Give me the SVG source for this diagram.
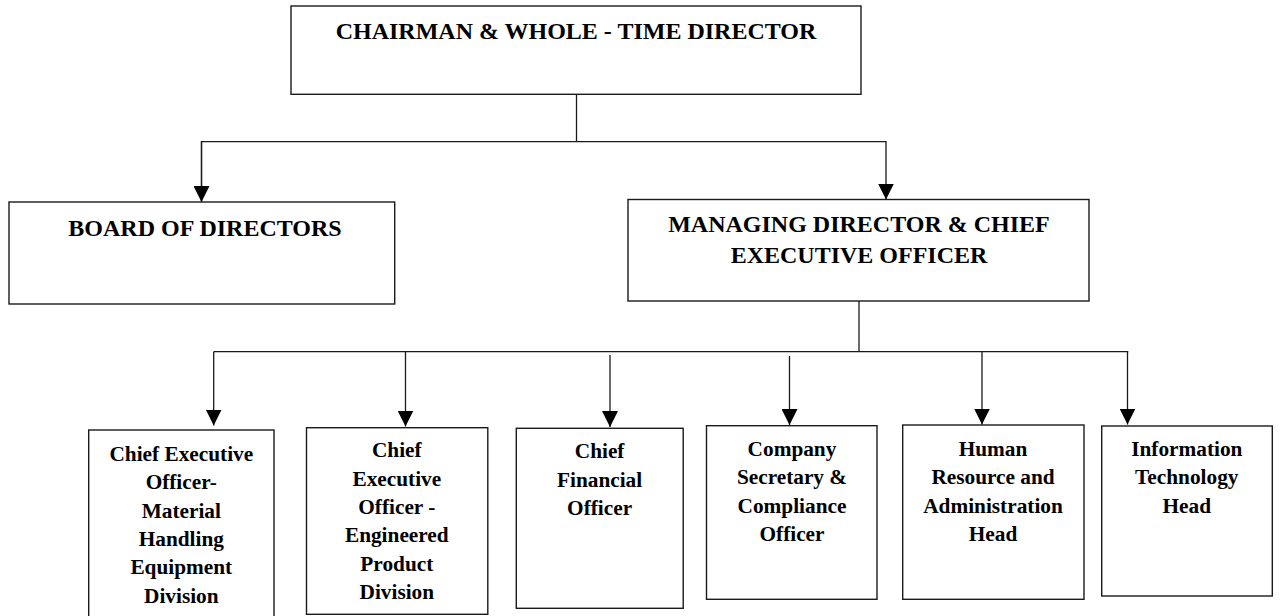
<svg xmlns="http://www.w3.org/2000/svg" width="1280" height="616" viewBox="0 0 1280 616">
<style>
.box{fill:#fff;stroke:#1a1a1a;stroke-width:1.4}
.big{font-family:"Liberation Serif","Times New Roman",serif;font-weight:bold;font-size:24px;fill:#000;text-anchor:middle}
.sm{font-family:"Liberation Serif","Times New Roman",serif;font-weight:bold;font-size:21.3px;fill:#000;text-anchor:middle}
.ln{fill:none;stroke:#1a1a1a;stroke-width:1.3}
</style>
<defs>
<marker id="ah" markerUnits="userSpaceOnUse" markerWidth="16" markerHeight="16" viewBox="0 0 15 15" refX="15" refY="7.5" orient="auto">
<path d="M0,0 L15,7.5 L0,15 z" fill="#000"/>
</marker>
</defs>
<rect width="1280" height="616" fill="#fff"/>
<g id="connectors">
<polyline class="ln" points="576.5,94 576.5,141.7"/>
<polyline class="ln" points="201.5,202 201.5,141.7 886,141.7 886,199.5" marker-end="url(#ah)"/>
<line class="ln" x1="201.5" y1="141.7" x2="201.5" y2="202" marker-end="url(#ah)"/>
<line class="ln" x1="859" y1="301" x2="859" y2="351.7"/>
<line class="ln" x1="213.7" y1="351.7" x2="1128.3" y2="351.7"/>
<line class="ln" x1="213.7" y1="351.7" x2="213.7" y2="425.5" marker-end="url(#ah)"/>
<line class="ln" x1="405.5" y1="351.7" x2="405.5" y2="426.5" marker-end="url(#ah)"/>
<line class="ln" x1="610" y1="355" x2="610" y2="427" marker-end="url(#ah)"/>
<line class="ln" x1="789.5" y1="356" x2="789.5" y2="425" marker-end="url(#ah)"/>
<line class="ln" x1="982" y1="351.7" x2="982" y2="424.5" marker-end="url(#ah)"/>
<line class="ln" x1="1127.5" y1="351.7" x2="1127.5" y2="424.5" marker-end="url(#ah)"/>
</g>
<g id="chairman">
<rect class="box" x="291" y="6" width="570" height="88.3"/>
<text class="big" x="576" y="39">CHAIRMAN &amp; WHOLE - TIME DIRECTOR</text>
</g>
<g id="board">
<rect class="box" x="9" y="202" width="385.7" height="102"/>
<text class="big" x="205" y="236">BOARD OF DIRECTORS</text>
</g>
<g id="md">
<rect class="box" x="628" y="199.5" width="461" height="101.5"/>
<text class="big" x="859" y="232.3">MANAGING DIRECTOR &amp; CHIEF</text>
<text class="big" x="859" y="263.3">EXECUTIVE OFFICER</text>
</g>
<g id="ceo-mhe">
<rect class="box" x="88.7" y="430" width="185.3" height="200"/>
<text class="sm" x="181.3" y="460.7">Chief Executive</text>
<text class="sm" x="181.3" y="489.1">Officer-</text>
<text class="sm" x="181.3" y="517.5">Material</text>
<text class="sm" x="181.3" y="545.9">Handling</text>
<text class="sm" x="181.3" y="574.3">Equipment</text>
<text class="sm" x="181.3" y="602.7">Division</text>
</g>
<g id="ceo-epd">
<rect class="box" x="306.5" y="427.7" width="181.3" height="186.6"/>
<text class="sm" x="396.8" y="457.3">Chief</text>
<text class="sm" x="396.8" y="485.6">Executive</text>
<text class="sm" x="396.8" y="513.9">Officer -</text>
<text class="sm" x="396.8" y="542.2">Engineered</text>
<text class="sm" x="396.8" y="570.5">Product</text>
<text class="sm" x="396.8" y="598.8">Division</text>
</g>
<g id="cfo">
<rect class="box" x="516.3" y="428.3" width="166.9" height="180"/>
<text class="sm" x="599.6" y="458.3">Chief</text>
<text class="sm" x="599.6" y="486.7">Financial</text>
<text class="sm" x="599.6" y="515">Officer</text>
</g>
<g id="cs">
<rect class="box" x="706.5" y="425.7" width="170.5" height="173.6"/>
<text class="sm" x="792" y="456">Company</text>
<text class="sm" x="792" y="484.3">Secretary &amp;</text>
<text class="sm" x="792" y="512.7">Compliance</text>
<text class="sm" x="792" y="540.8">Officer</text>
</g>
<g id="hr">
<rect class="box" x="902.7" y="425" width="181.3" height="174.3"/>
<text class="sm" x="993" y="456">Human</text>
<text class="sm" x="993" y="484.3">Resource and</text>
<text class="sm" x="993" y="512.7">Administration</text>
<text class="sm" x="993" y="540.8">Head</text>
</g>
<g id="it">
<rect class="box" x="1101.7" y="426" width="170.6" height="170"/>
<text class="sm" x="1186.8" y="456">Information</text>
<text class="sm" x="1186.8" y="484.3">Technology</text>
<text class="sm" x="1186.8" y="512.7">Head</text>
</g>
</svg>
